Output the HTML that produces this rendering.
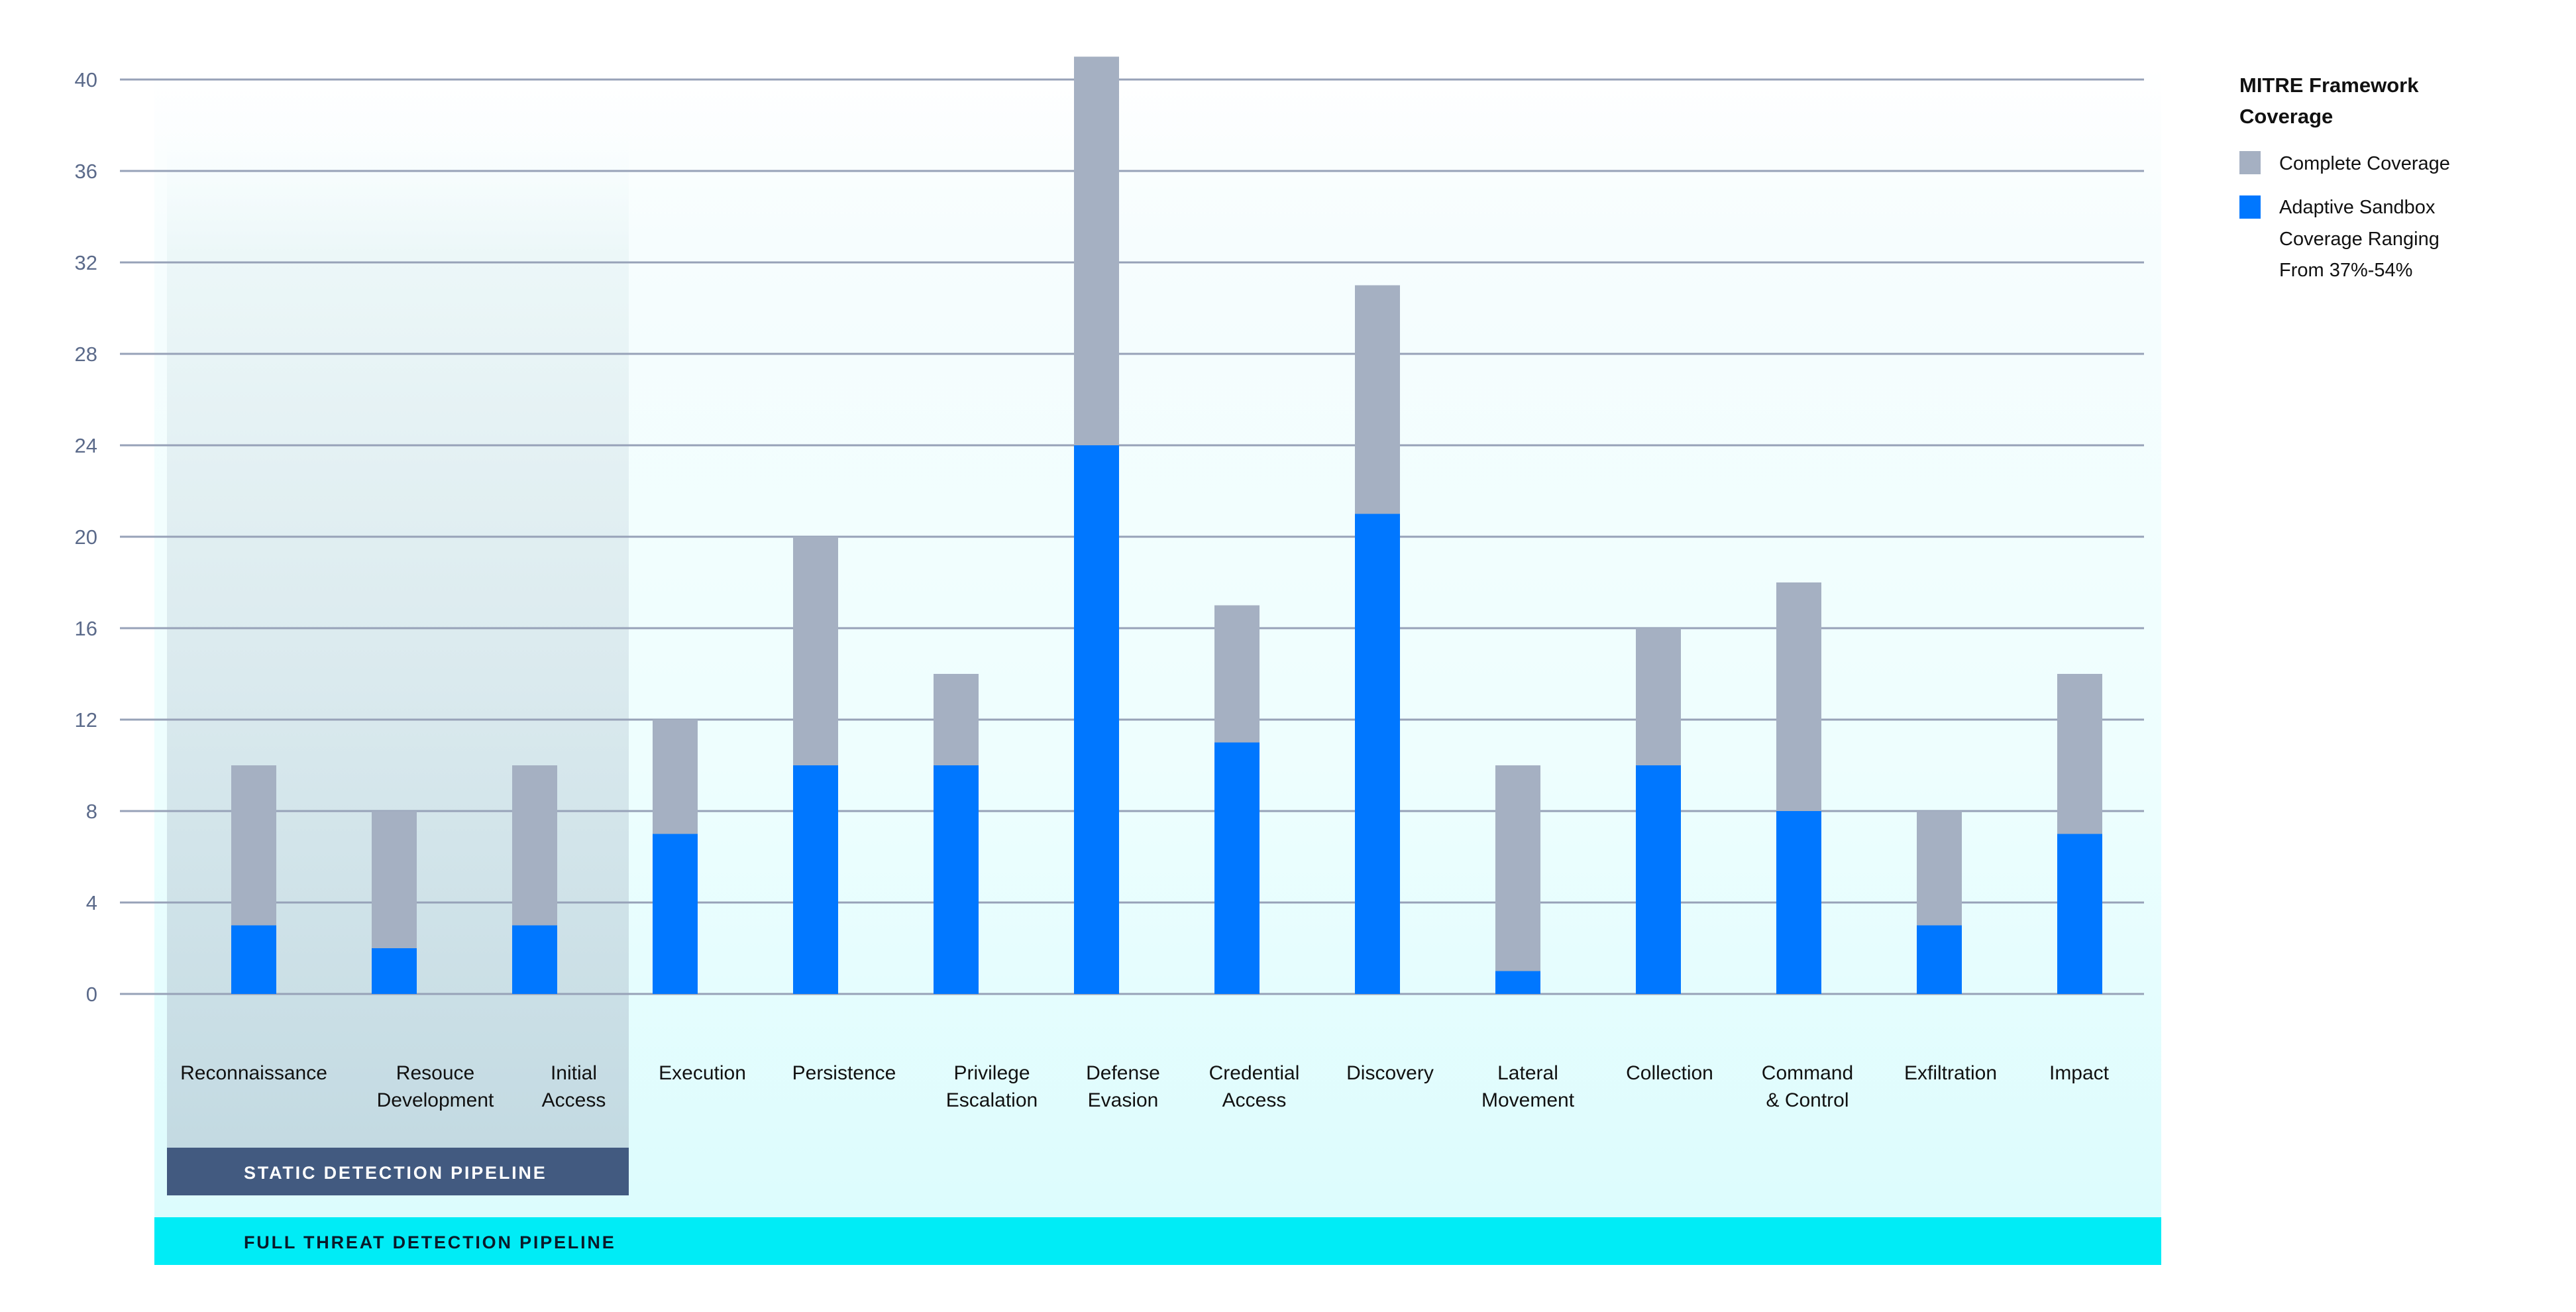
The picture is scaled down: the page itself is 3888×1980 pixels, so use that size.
<!DOCTYPE html>
<html><head><meta charset="utf-8"><style>
html,body{margin:0;padding:0;background:#fff;}
svg{display:block;}
text{font-family:"Liberation Sans",sans-serif;}
</style></head><body>
<svg width="3888" height="1980" viewBox="0 0 3888 1980" xmlns="http://www.w3.org/2000/svg">
<defs>
<linearGradient id="bg" x1="0" y1="0" x2="0" y2="1">
<stop offset="0" stop-color="#ffffff"/>
<stop offset="0.15" stop-color="#f6fdfe"/>
<stop offset="0.6" stop-color="#eefefe"/>
<stop offset="1" stop-color="#dcfcfd"/>
</linearGradient>
<linearGradient id="st" x1="0" y1="0" x2="0" y2="1">
<stop offset="0" stop-color="#f4fbfc" stop-opacity="0"/>
<stop offset="0.12" stop-color="#ecf7f8"/>
<stop offset="0.5" stop-color="#dcebef"/>
<stop offset="1" stop-color="#c3dae2"/>
</linearGradient>
</defs>
<rect x="233" y="100" width="3029" height="1737" fill="url(#bg)"/>
<rect x="252" y="200" width="697" height="1532" fill="url(#st)"/>
<g stroke="#97a2b8" stroke-width="3">
<line x1="181" x2="3236" y1="120" y2="120"/>
<line x1="181" x2="3236" y1="258" y2="258"/>
<line x1="181" x2="3236" y1="396" y2="396"/>
<line x1="181" x2="3236" y1="534" y2="534"/>
<line x1="181" x2="3236" y1="672" y2="672"/>
<line x1="181" x2="3236" y1="810" y2="810"/>
<line x1="181" x2="3236" y1="948" y2="948"/>
<line x1="181" x2="3236" y1="1086" y2="1086"/>
<line x1="181" x2="3236" y1="1224" y2="1224"/>
<line x1="181" x2="3236" y1="1362" y2="1362"/>
<line x1="181" x2="3236" y1="1500" y2="1500"/>
</g>
<g font-size="31" fill="#5b6a8a" text-anchor="end">
<text x="147" y="131">40</text>
<text x="147" y="269">36</text>
<text x="147" y="407">32</text>
<text x="147" y="545">28</text>
<text x="147" y="683">24</text>
<text x="147" y="821">20</text>
<text x="147" y="959">16</text>
<text x="147" y="1097">12</text>
<text x="147" y="1235">8</text>
<text x="147" y="1373">4</text>
<text x="147" y="1511">0</text>
</g>
<g id="bars">
<rect x="349" y="1155" width="68" height="345" fill="#a5b0c2"/><rect x="349" y="1396.5" width="68" height="103.5" fill="#0077ff"/>
<rect x="561" y="1224" width="68" height="276" fill="#a5b0c2"/><rect x="561" y="1431" width="68" height="69" fill="#0077ff"/>
<rect x="773" y="1155" width="68" height="345" fill="#a5b0c2"/><rect x="773" y="1396.5" width="68" height="103.5" fill="#0077ff"/>
<rect x="985" y="1086" width="68" height="414" fill="#a5b0c2"/><rect x="985" y="1258.5" width="68" height="241.5" fill="#0077ff"/>
<rect x="1197" y="810" width="68" height="690" fill="#a5b0c2"/><rect x="1197" y="1155" width="68" height="345" fill="#0077ff"/>
<rect x="1409" y="1017" width="68" height="483" fill="#a5b0c2"/><rect x="1409" y="1155" width="68" height="345" fill="#0077ff"/>
<rect x="1621" y="85.5" width="68" height="1414.5" fill="#a5b0c2"/><rect x="1621" y="672" width="68" height="828" fill="#0077ff"/>
<rect x="1833" y="913.5" width="68" height="586.5" fill="#a5b0c2"/><rect x="1833" y="1120.5" width="68" height="379.5" fill="#0077ff"/>
<rect x="2045" y="430.5" width="68" height="1069.5" fill="#a5b0c2"/><rect x="2045" y="775.5" width="68" height="724.5" fill="#0077ff"/>
<rect x="2257" y="1155" width="68" height="345" fill="#a5b0c2"/><rect x="2257" y="1465.5" width="68" height="34.5" fill="#0077ff"/>
<rect x="2469" y="948" width="68" height="552" fill="#a5b0c2"/><rect x="2469" y="1155" width="68" height="345" fill="#0077ff"/>
<rect x="2681" y="879" width="68" height="621" fill="#a5b0c2"/><rect x="2681" y="1224" width="68" height="276" fill="#0077ff"/>
<rect x="2893" y="1224" width="68" height="276" fill="#a5b0c2"/><rect x="2893" y="1396.5" width="68" height="103.5" fill="#0077ff"/>
<rect x="3105" y="1017" width="68" height="483" fill="#a5b0c2"/><rect x="3105" y="1258.5" width="68" height="241.5" fill="#0077ff"/>
</g>
<g font-size="30" fill="#111" text-anchor="middle">
<text x="383" y="1629">Reconnaissance</text>
<text x="657" y="1629">Resouce</text><text x="657" y="1670">Development</text>
<text x="866" y="1629">Initial</text><text x="866" y="1670">Access</text>
<text x="1060" y="1629">Execution</text>
<text x="1274" y="1629">Persistence</text>
<text x="1497" y="1629">Privilege</text><text x="1497" y="1670">Escalation</text>
<text x="1695" y="1629">Defense</text><text x="1695" y="1670">Evasion</text>
<text x="1893" y="1629">Credential</text><text x="1893" y="1670">Access</text>
<text x="2098" y="1629">Discovery</text>
<text x="2306" y="1629">Lateral</text><text x="2306" y="1670">Movement</text>
<text x="2520" y="1629">Collection</text>
<text x="2728" y="1629">Command</text><text x="2728" y="1670">&amp; Control</text>
<text x="2944" y="1629">Exfiltration</text>
<text x="3138" y="1629">Impact</text>
</g>
<rect x="252" y="1732" width="697" height="72" fill="#425a80"/>
<text x="368" y="1779" font-size="27" font-weight="bold" fill="#fff" letter-spacing="2.8">STATIC DETECTION PIPELINE</text>
<rect x="233" y="1837" width="3029" height="72" fill="#00ecf6"/>
<text x="368" y="1884" font-size="27" font-weight="bold" fill="#0a1a2a" letter-spacing="2.8">FULL THREAT DETECTION PIPELINE</text>
<g fill="#111">
<text x="3380" y="139" font-size="31" font-weight="bold">MITRE Framework</text>
<text x="3380" y="186" font-size="31" font-weight="bold">Coverage</text>
<rect x="3380" y="228" width="32" height="35" fill="#a5b0c2"/>
<text x="3440" y="256" font-size="29">Complete Coverage</text>
<rect x="3380" y="295" width="32" height="35" fill="#0077ff"/>
<text x="3440" y="322" font-size="29">Adaptive Sandbox</text>
<text x="3440" y="370" font-size="29">Coverage Ranging</text>
<text x="3440" y="417" font-size="29">From 37%-54%</text>
</g>
</svg>
</body></html>
